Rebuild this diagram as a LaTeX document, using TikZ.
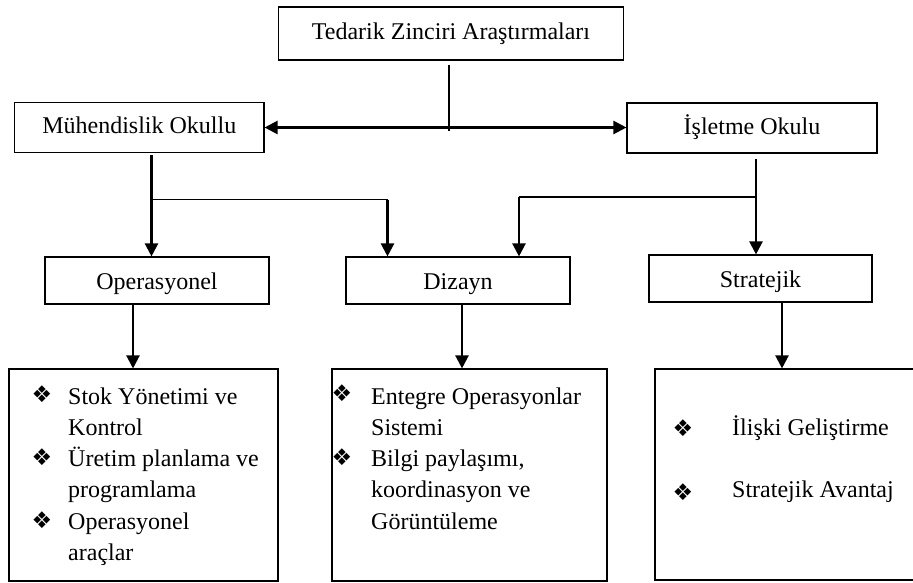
\documentclass[tikz,border=0pt]{standalone}
\usepackage{fontspec}
\setmainfont{Liberation Serif}
\newfontfamily\bulletfont{DejaVu Sans}
\usetikzlibrary{arrows.meta}

\begin{document}
\begin{tikzpicture}[x=1pt,y=-1pt,
  tip/.tip={Triangle[length=13pt,width=13pt]},
  labelbox/.style={draw=black, line width=1.1pt, inner sep=0pt,
    font=\fontsize{24}{31.3}\selectfont, text height=17.5pt, text depth=4.5pt},
  levelbox/.style={labelbox, text height=21pt, text depth=3pt},
  listbox/.style={draw=black, line width=1.1pt, inner sep=0pt},
  itemtext/.style={anchor=base west, inner sep=0pt, font=\fontsize{24}{31.3}\selectfont},
  bul/.style={inner sep=0pt, font=\bulletfont\fontsize{23}{23}\selectfont},
  stem/.style={line width=1.2pt},
  branch/.style={line width=1.7pt},
  arrowline/.style={line width=2.2pt, -tip},
  dblarrow/.style={line width=2.3pt, tip-tip}]

\useasboundingbox (0,0) rectangle (913,583);

% header and the two schools
\node[labelbox, minimum width=345pt, minimum height=53pt] (T) at (451,33.5) {Tedarik Zinciri Araştırmaları};
\node[labelbox, minimum width=249.4pt, minimum height=50pt] (M) at (139.3,127.5) {Mühendislik Okullu};
\node[labelbox, minimum width=250pt, minimum height=50pt] (I) at (752,128) {İşletme Okulu};

% the three research levels
\node[levelbox, minimum width=224pt, minimum height=47pt] (O) at (157,280.5) {Operasyonel};
\node[levelbox, minimum width=224pt, minimum height=47pt] (D) at (458,280.5) {Dizayn};
\node[levelbox, minimum width=223pt, minimum height=47pt] (S) at (760.5,278.5) {Stratejik};

% content boxes
\node[listbox, minimum width=269pt, minimum height=212pt] (B1) at (143.5,475) {};
\node[listbox, minimum width=275pt, minimum height=212pt] (B2) at (469.5,475) {};
\node[listbox, minimum width=261pt, minimum height=211pt] (B3) at (785.5,474.5) {};

% items of the first box
\node[bul] (b11) at (42,394) {❖};
\node[itemtext] (t11) at (68,404) {\begin{tabular}[t]{@{}l@{}}Stok Yönetimi ve\\Kontrol\end{tabular}};
\node[bul] (b12) at (42,457) {❖};
\node[itemtext] (t12) at (68,466.5) {\begin{tabular}[t]{@{}l@{}}Üretim planlama ve\\programlama\end{tabular}};
\node[bul] (b13) at (42,520) {❖};
\node[itemtext] (t13) at (68,529) {\begin{tabular}[t]{@{}l@{}}Operasyonel\\araçlar\end{tabular}};

% items of the second box
\node[bul] (b21) at (342,393) {❖};
\node[itemtext] (t21) at (371,404) {\begin{tabular}[t]{@{}l@{}}Entegre Operasyonlar\\Sistemi\end{tabular}};
\node[bul] (b22) at (342,457) {❖};
\node[itemtext] (t22) at (371,466.5) {\begin{tabular}[t]{@{}l@{}}Bilgi paylaşımı,\\koordinasyon ve\\Görüntüleme\end{tabular}};

% items of the third box
\node[bul] (b31) at (683,428) {❖};
\node[itemtext] (t31) at (732,435) {İlişki Geliştirme};
\node[bul] (b32) at (683,492) {❖};
\node[itemtext] (t32) at (732,497) {Stratejik Avantaj};

% junction points
\coordinate (hub) at (449,131);
\coordinate (mj) at (151.5,199.5);
\coordinate (mjd) at (387.5,199.5);
\coordinate (ij) at (756,197);
\coordinate (ijd) at (519,197);

% header to the two schools
\draw[stem] ([xshift=-2pt,yshift=-4pt]T.south) -- (hub);
\draw[dblarrow] (M.east) -- (M.east -| I.west);

% engineering school branches
\draw[arrowline] ([xshift=12.2pt,yshift=-2pt]M.south) -- (mj) -- ([xshift=-5.5pt]O.north);
\draw[branch] (mj) -- (mjd);
\draw[arrowline] (mjd) -- ([xshift=-70.5pt]D.north);

% business school branches
\draw[arrowline] ([xshift=4pt,yshift=-5pt]I.south) -- (ij) -- ([xshift=-4.5pt]S.north);
\draw[branch] (ij) -- (ijd);
\draw[arrowline] (ijd) -- ([xshift=61pt]D.north);

% levels to their contents
\draw[arrowline] ([xshift=-24pt]O.south) -- ([xshift=-10.5pt]B1.north);
\draw[arrowline] ([xshift=4pt]D.south) -- ([xshift=-7.5pt]B2.north);
\draw[arrowline] ([xshift=21.5pt]S.south) -- ([xshift=-3.5pt]B3.north);
\end{tikzpicture}
\end{document}
